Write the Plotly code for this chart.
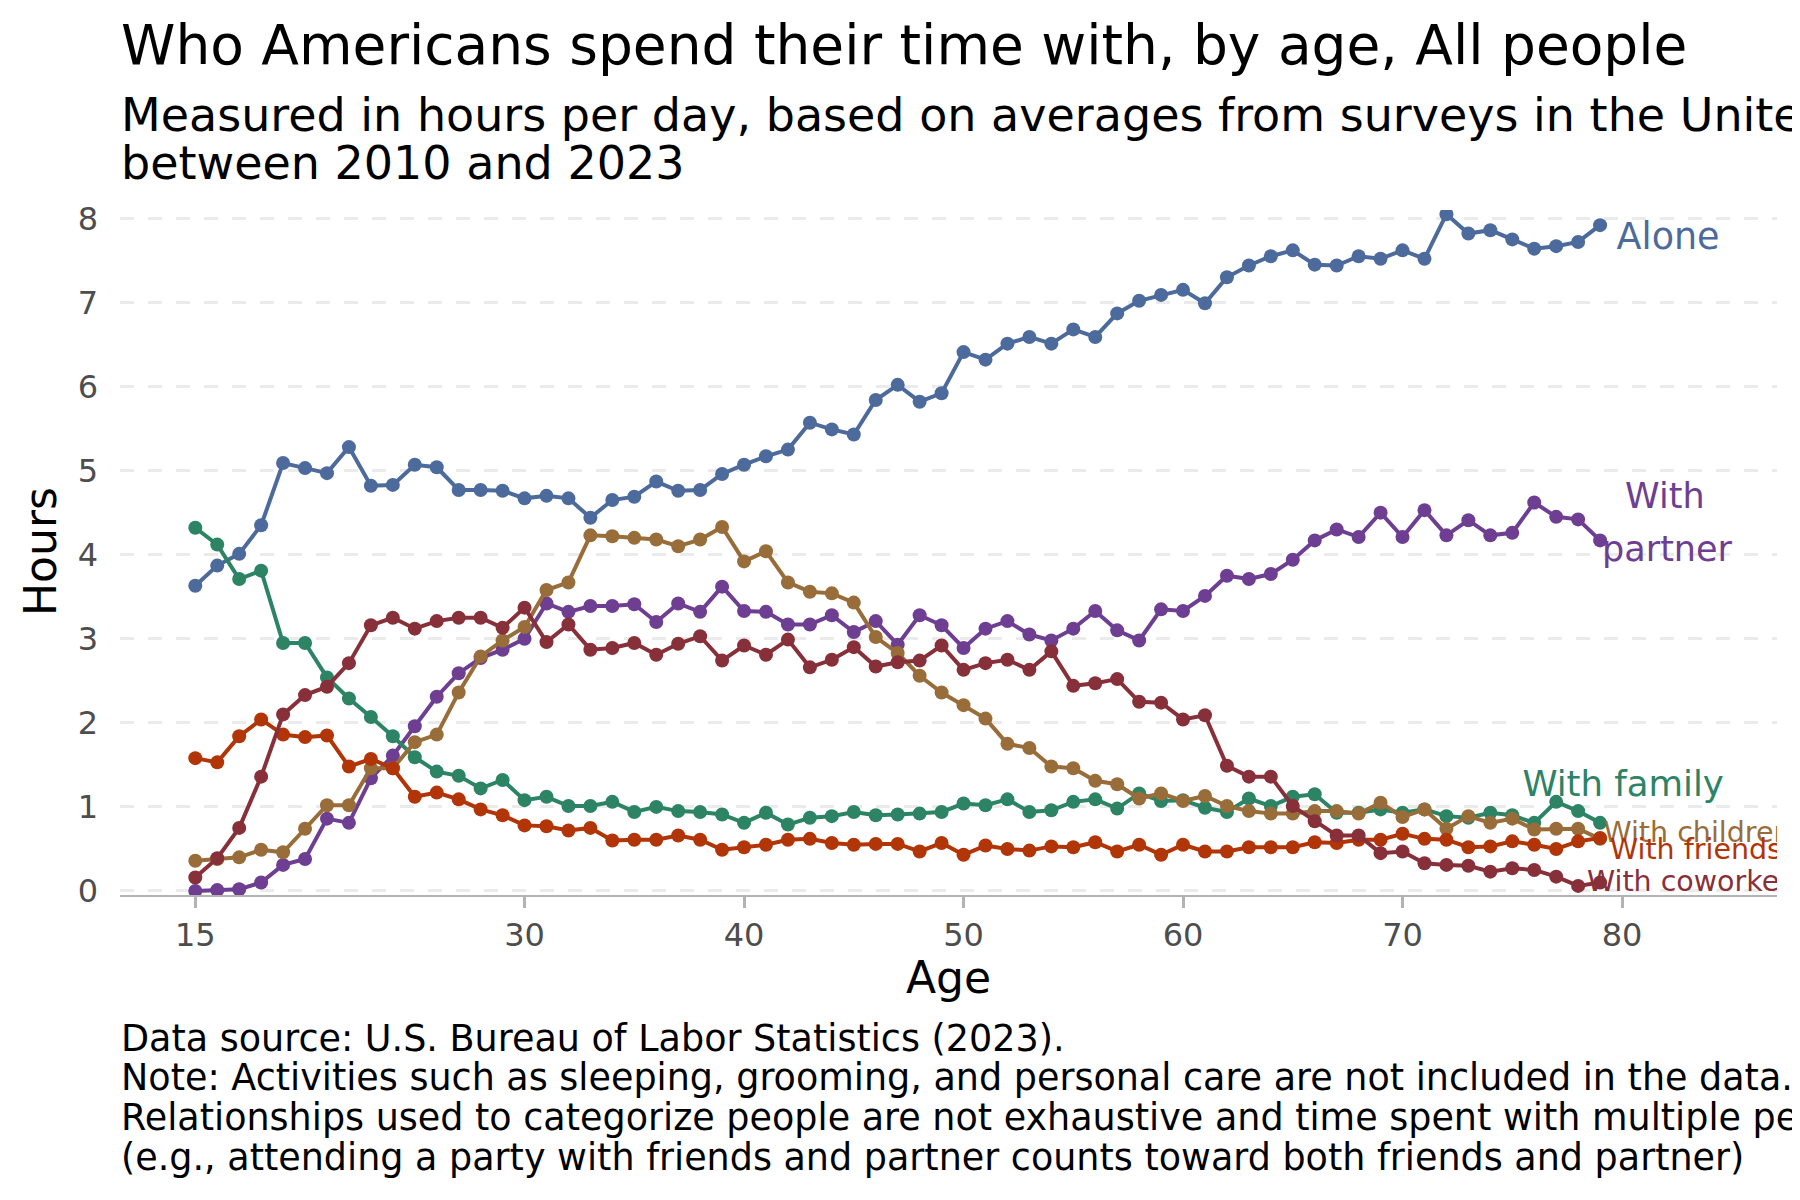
import plotly.graph_objects as go

# ages 15..79, hours per day
ages = list(range(15, 80))

alone = [3.63, 3.87, 4.01, 4.35, 5.09, 5.03, 4.97, 5.28, 4.82, 4.83,
         5.07, 5.04, 4.77, 4.77, 4.76, 4.67, 4.70, 4.67, 4.44, 4.65,
         4.69, 4.87, 4.76, 4.77, 4.96, 5.07, 5.17, 5.25, 5.57, 5.49,
         5.43, 5.84, 6.02, 5.82, 5.92, 6.41, 6.32, 6.51, 6.59, 6.51,
         6.68, 6.59, 6.87, 7.02, 7.09, 7.15, 6.99, 7.30, 7.44, 7.55,
         7.62, 7.45, 7.44, 7.55, 7.52, 7.62, 7.52, 8.05, 7.82, 7.86,
         7.75, 7.64, 7.67, 7.72, 7.92]

partner = [0.00, 0.01, 0.02, 0.10, 0.31, 0.38, 0.86, 0.81, 1.34, 1.61,
           1.96, 2.31, 2.59, 2.77, 2.87, 3.00, 3.42, 3.32, 3.39, 3.39,
           3.41, 3.20, 3.42, 3.32, 3.62, 3.33, 3.32, 3.17, 3.17, 3.28,
           3.08, 3.21, 2.93, 3.28, 3.16, 2.89, 3.12, 3.21, 3.05, 2.98,
           3.12, 3.33, 3.10, 2.98, 3.35, 3.33, 3.51, 3.75, 3.71, 3.77,
           3.94, 4.17, 4.30, 4.21, 4.50, 4.21, 4.53, 4.23, 4.41, 4.23,
           4.26, 4.62, 4.45, 4.42, 4.17]

family = [4.32, 4.12, 3.71, 3.81, 2.95, 2.95, 2.54, 2.29, 2.07, 1.84,
          1.59, 1.42, 1.37, 1.22, 1.32, 1.08, 1.12, 1.01, 1.01, 1.06,
          0.94, 1.00, 0.95, 0.94, 0.91, 0.81, 0.93, 0.79, 0.87, 0.89,
          0.94, 0.90, 0.91, 0.92, 0.94, 1.04, 1.02, 1.09, 0.94, 0.96,
          1.06, 1.09, 0.98, 1.16, 1.07, 1.08, 0.99, 0.94, 1.10, 1.01,
          1.12, 1.15, 0.93, 0.93, 0.97, 0.93, 0.97, 0.89, 0.87, 0.93,
          0.90, 0.81, 1.06, 0.95, 0.81]

children = [0.36, 0.38, 0.40, 0.49, 0.46, 0.74, 1.02, 1.02, 1.46, 1.46,
            1.77, 1.86, 2.36, 2.79, 2.98, 3.14, 3.58, 3.67, 4.23, 4.22,
            4.20, 4.18, 4.10, 4.18, 4.33, 3.92, 4.04, 3.67, 3.56, 3.54,
            3.43, 3.02, 2.83, 2.56, 2.36, 2.21, 2.05, 1.75, 1.70, 1.48,
            1.46, 1.31, 1.27, 1.10, 1.16, 1.07, 1.13, 1.01, 0.95, 0.92,
            0.92, 0.95, 0.95, 0.92, 1.05, 0.88, 0.97, 0.74, 0.89, 0.81,
            0.86, 0.73, 0.74, 0.74, 0.62]

friends = [1.58, 1.53, 1.84, 2.04, 1.86, 1.83, 1.85, 1.48, 1.57, 1.46,
           1.12, 1.17, 1.09, 0.97, 0.90, 0.78, 0.77, 0.72, 0.75, 0.60,
           0.61, 0.61, 0.66, 0.61, 0.49, 0.52, 0.55, 0.61, 0.62, 0.57,
           0.55, 0.56, 0.56, 0.47, 0.57, 0.43, 0.54, 0.50, 0.48, 0.53,
           0.52, 0.58, 0.47, 0.55, 0.43, 0.55, 0.47, 0.47, 0.52, 0.52,
           0.52, 0.58, 0.57, 0.61, 0.61, 0.68, 0.62, 0.61, 0.52, 0.53,
           0.59, 0.55, 0.50, 0.59, 0.63]

coworkers = [0.16, 0.39, 0.75, 1.36, 2.10, 2.33, 2.43, 2.71, 3.16, 3.25,
             3.12, 3.21, 3.25, 3.25, 3.13, 3.37, 2.96, 3.17, 2.87, 2.89,
             2.95, 2.81, 2.94, 3.03, 2.74, 2.92, 2.81, 2.99, 2.66, 2.75,
             2.90, 2.67, 2.72, 2.74, 2.92, 2.63, 2.71, 2.75, 2.63, 2.85,
             2.44, 2.47, 2.52, 2.25, 2.24, 2.04, 2.09, 1.49, 1.36, 1.36,
             1.01, 0.83, 0.66, 0.66, 0.45, 0.47, 0.33, 0.31, 0.30, 0.23,
             0.27, 0.25, 0.17, 0.06, 0.10]

x_ticks = [15, 30, 40, 50, 60, 70, 80]
y_ticks = [0, 1, 2, 3, 4, 5, 6, 7, 8]

series = [
    ("Alone", alone, "#4C6A9C"),
    ("With partner", partner, "#6D3E91"),
    ("With family", family, "#2C8465"),
    ("With children", children, "#996D39"),
    ("With friends", friends, "#B13507"),
    ("With coworkers", coworkers, "#883039"),
]

# end labels: (text, x, y, textposition, font size, colour)
end_labels = [
    ("Alone", 79.75, 7.74, "middle right", 36.5, "#4C6A9C"),
    ("With", 81.95, 4.66, "middle center", 35, "#6D3E91"),
    ("partner", 82.05, 4.03, "middle center", 35, "#6D3E91"),
    ("With family", 80.05, 1.24, "middle center", 35.5, "#2C8465"),
    ("With children", 79.15, 0.67, "middle right", 28.5, "#996D39"),
    ("With friends", 79.45, 0.47, "middle right", 28.5, "#B13507"),
    ("With coworkers", 78.4, 0.08, "middle right", 28.5, "#883039"),
]

FONT = "DejaVu Sans"
OFF = 8  # the page body margin shifts the figure by 8px
W, H = 1800 - OFF, 1200 - OFF
L, R, T = 120 - OFF, 23, 210 - OFF
B = H - (895 - OFF)


# positions below are given in screen pixels of the 1800x1200 window
def px(xp):
    return (xp - OFF - L) / (W - L - R)


def py(yp):
    return (H - B - (yp - OFF)) / (H - T - B)


fig = go.Figure()

for name, vals, col in series:
    fig.add_trace(go.Scatter(x=ages, y=vals, name=name, mode="lines+markers",
                             line=dict(color=col, width=4),
                             marker=dict(color=col, size=14),
                             showlegend=False))

for txt, lx, ly, pos, fs, col in end_labels:
    fig.add_trace(go.Scatter(x=[lx], y=[ly], mode="text", text=[txt],
                             textposition=pos, cliponaxis=True,
                             textfont=dict(family=FONT, size=fs, color=col),
                             showlegend=False, hoverinfo="skip"))

notes = [
    "Data source: U.S. Bureau of Labor Statistics (2023).",
    "Note: Activities such as sleeping, grooming, and personal care are not included in the data.",
    "Relationships used to categorize people are not exhaustive and time spent with multiple people counts toward all",
    "(e.g., attending a party with friends and partner counts toward both friends and partner)",
]

ann = [
    dict(text="Who Americans spend their time with, by age, All people",
         x=px(119), y=py(45), font=dict(size=55, color="black")),
    dict(text="Measured in hours per day, based on averages from surveys in the United States",
         x=px(119), y=py(115.5), font=dict(size=46, color="black")),
    dict(text="between 2010 and 2023",
         x=px(119), y=py(163.5), font=dict(size=46, color="black")),
]
for i, n in enumerate(notes):
    ann.append(dict(text=n, x=px(119), y=py(1038 + 39.8 * i),
                    font=dict(size=36.5, color="black")))
for a in ann:
    a.update(xref="paper", yref="paper", xanchor="left", yanchor="middle",
             showarrow=False)
ann.append(dict(text="Age", x=px(948), y=py(977), xref="paper", yref="paper",
                xanchor="center", yanchor="middle", showarrow=False,
                font=dict(size=44, color="black")))
ann.append(dict(text="Hours", x=px(40), y=py(552), xref="paper", yref="paper",
                xanchor="center", yanchor="middle", showarrow=False,
                textangle=-90, font=dict(size=44, color="black")))

fig.update_layout(
    width=W, height=H, autosize=False,
    margin=dict(l=L, r=R, t=T, b=B),
    plot_bgcolor="white", paper_bgcolor="white",
    font=dict(family=FONT, color="black"),
    annotations=ann,
)

fig.update_xaxes(range=[11.57, 87.06], tickvals=x_ticks,
                 showgrid=False, zeroline=False,
                 showline=True, linecolor="#b3b3b3", linewidth=1.7,
                 ticks="outside", ticklen=11, tickwidth=3, tickcolor="#b3b3b3",
                 tickfont=dict(size=32, color="#4d4d4d"))
fig.update_yaxes(range=[-0.048, 8.1], tickvals=y_ticks,
                 showgrid=True, gridcolor="#ebebeb", gridwidth=3,
                 griddash="14px,14px", zeroline=False, showline=False,
                 ticks="", ticklabelstandoff=21,
                 tickfont=dict(size=32, color="#4d4d4d"))

fig.write_html("out.html")
